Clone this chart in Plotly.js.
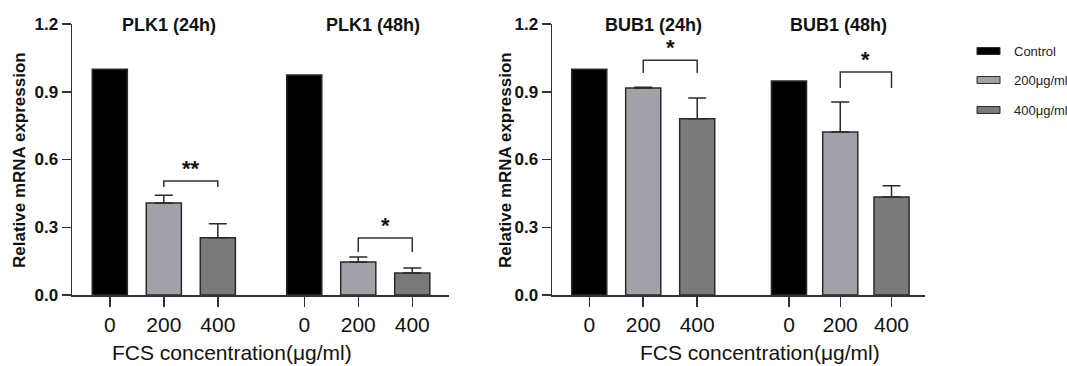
<!DOCTYPE html>
<html>
<head>
<meta charset="utf-8">
<script src="https://cdn.plot.ly/plotly-3.0.1.min.js"></script>
<style>html,body{margin:0;padding:0;background:#fff;}#chart{width:1067px;height:366px;}</style>
</head>
<body>
<div id="chart"></div>
<script>
// ---- data ----
const tickLabels = ['0', '200', '400', '0', '200', '400'];
const seriesNames = ['Control', '200\u03bcg/ml', '400\u03bcg/ml'];
const panelTitles = ['PLK1 (24h)', 'PLK1 (48h)', 'BUB1 (24h)', 'BUB1 (48h)'];
const plkPositions = [0, 1, 2, 3.6, 4.6, 5.6];
const bubPositions = [0, 1, 2, 3.7, 4.65, 5.6];
// values per series: [24h, 48h]
const plkControl = [1.0, 0.974];
const plk200 = [0.407, 0.146];
const plk400 = [0.253, 0.097];
const plk200Err = [0.035, 0.022];
const plk400Err = [0.062, 0.023];
const bubControl = [1.0, 0.948];
const bub200 = [0.917, 0.722];
const bub400 = [0.78, 0.434];
const bub200Err = [0.003, 0.133];
const bub400Err = [0.092, 0.05];
// significance brackets: [PLK1 24h, PLK1 48h, BUB1 24h, BUB1 48h]
const bracketTop = [0.505, 0.252, 1.04, 0.988];
const bracketLeg = [0.478, 0.19, 0.983, 0.917];
const bracketStars = ['**', '*', '*', '*'];

const colors = ['#000000', '#a3a1a8', '#7a7a7a'];
const edge = '#2a2a2a';
const FONT = 'Liberation Sans, Arial, sans-serif';

function barTrace(pos, idx, vals, errs, color, xa, ya) {
  const t = {
    type: 'bar', x: [pos[idx], pos[idx + 3]], y: vals, width: 0.65,
    marker: {color: color, line: {color: edge, width: 1.5}},
    xaxis: xa, yaxis: ya, showlegend: false, hoverinfo: 'skip'
  };
  if (errs) {
    t.error_y = {type: 'data', symmetric: false, array: errs, arrayminus: [0, 0],
      color: edge, thickness: 1.5, width: 9};
  }
  return t;
}
function bracketTrace(pos, a, b, k, xa, ya) {
  return {type: 'scatter', mode: 'lines', x: [pos[a], pos[a], pos[b], pos[b]],
    y: [bracketLeg[k], bracketTop[k], bracketTop[k], bracketLeg[k]],
    line: {color: '#333', width: 1.5}, xaxis: xa, yaxis: ya, showlegend: false, hoverinfo: 'skip'};
}

const data = [
  barTrace(plkPositions, 0, plkControl, null, colors[0], 'x', 'y'),
  barTrace(plkPositions, 1, plk200, plk200Err, colors[1], 'x', 'y'),
  barTrace(plkPositions, 2, plk400, plk400Err, colors[2], 'x', 'y'),
  barTrace(bubPositions, 0, bubControl, null, colors[0], 'x2', 'y2'),
  barTrace(bubPositions, 1, bub200, bub200Err, colors[1], 'x2', 'y2'),
  barTrace(bubPositions, 2, bub400, bub400Err, colors[2], 'x2', 'y2'),
  bracketTrace(plkPositions, 1, 2, 0, 'x', 'y'),
  bracketTrace(plkPositions, 4, 5, 1, 'x', 'y'),
  bracketTrace(bubPositions, 1, 2, 2, 'x2', 'y2'),
  bracketTrace(bubPositions, 4, 5, 3, 'x2', 'y2')
];

function xaxis(domain, range, pos, anchor) {
  return {domain: domain, range: range, anchor: anchor, tickmode: 'array', tickvals: pos, ticktext: tickLabels,
    showline: true, linecolor: '#333', linewidth: 1.5, ticks: 'outside', ticklen: 10, tickwidth: 1.5,
    tickcolor: '#333', showgrid: false, zeroline: false, automargin: false,
    tickfont: {family: FONT, size: 21, color: '#111'}, fixedrange: true};
}
function yaxis(domain, anchor) {
  return {domain: domain, range: [0, 1.2], anchor: anchor, tickvals: [0, 0.3, 0.6, 0.9, 1.2], tickformat: '.1f',
    showline: true, linecolor: '#333', linewidth: 1.5, ticks: 'outside', ticklen: 9, tickwidth: 1.5,
    tickcolor: '#333', showgrid: false, zeroline: false, automargin: false,
    tickfont: {family: FONT, size: 17, color: '#111', weight: 'bold'}, fixedrange: true};
}

const yDom = [1 - 295 / 366, 1 - 24 / 366];
const annotations = [];
const titleX = [169, 373, 653, 838];
panelTitles.forEach((t, i) => annotations.push({text: t, xref: 'paper', yref: 'paper', x: titleX[i] / 1067,
  y: 1 - 25 / 366, xanchor: 'center', yanchor: 'middle', showarrow: false,
  font: {family: FONT, size: 18, color: '#111', weight: 'bold'}}));
// stars
const starPos = [[plkPositions, 1, 2, 'x', 'y'], [plkPositions, 4, 5, 'x', 'y'], [bubPositions, 1, 2, 'x2', 'y2'], [bubPositions, 4, 5, 'x2', 'y2']];
starPos.forEach((s, k) => annotations.push({text: bracketStars[k], xref: s[3], yref: s[4],
  x: (s[0][s[1]] + s[0][s[2]]) / 2, y: bracketTop[k], yanchor: 'bottom', yshift: -2, showarrow: false,
  font: {family: FONT, size: 22, color: '#111', weight: 'bold'}}));
// axis titles
[19, 505].forEach(xc => annotations.push({text: 'Relative mRNA expression', xref: 'paper', yref: 'paper',
  x: xc / 1067, y: 1 - 160 / 366, textangle: -90, xanchor: 'center', yanchor: 'middle', showarrow: false,
  font: {family: FONT, size: 17, color: '#111', weight: 'bold'}}));
[232, 760].forEach(xc => annotations.push({text: 'FCS concentration(\u03bcg/ml)', xref: 'paper', yref: 'paper',
  x: xc / 1067, y: 1 - 352 / 366, xanchor: 'center', yanchor: 'middle', showarrow: false,
  font: {family: FONT, size: 21, color: '#111'}}));
// legend
const shapes = [];
const legY = [51, 80, 110];
seriesNames.forEach((n, i) => {
  shapes.push({type: 'rect', xref: 'paper', yref: 'paper', x0: 977 / 1067, x1: 1000 / 1067,
    y0: 1 - (legY[i] + 3.5) / 366, y1: 1 - (legY[i] - 3.5) / 366,
    fillcolor: colors[i], line: {color: edge, width: 1}});
  annotations.push({text: n, xref: 'paper', yref: 'paper', x: 1012 / 1067, y: 1 - legY[i] / 366,
    xanchor: 'left', yanchor: 'middle', showarrow: false, font: {family: FONT, size: 13, color: '#222'}});
});

const layout = {
  width: 1067, height: 366, margin: {l: 0, r: 0, t: 0, b: 0},
  paper_bgcolor: '#fff', plot_bgcolor: '#fff', bargap: 0, showlegend: false,
  xaxis: xaxis([72 / 1067, 449 / 1067], [-0.7, 6.28], plkPositions, 'y'),
  yaxis: yaxis(yDom, 'x'),
  xaxis2: xaxis([552 / 1067, 925 / 1067], [-0.69, 6.22], bubPositions, 'y2'),
  yaxis2: yaxis(yDom, 'x2'),
  annotations: annotations, shapes: shapes
};
Plotly.newPlot('chart', data, layout, {displayModeBar: false, staticPlot: true});
</script>
</body>
</html>
